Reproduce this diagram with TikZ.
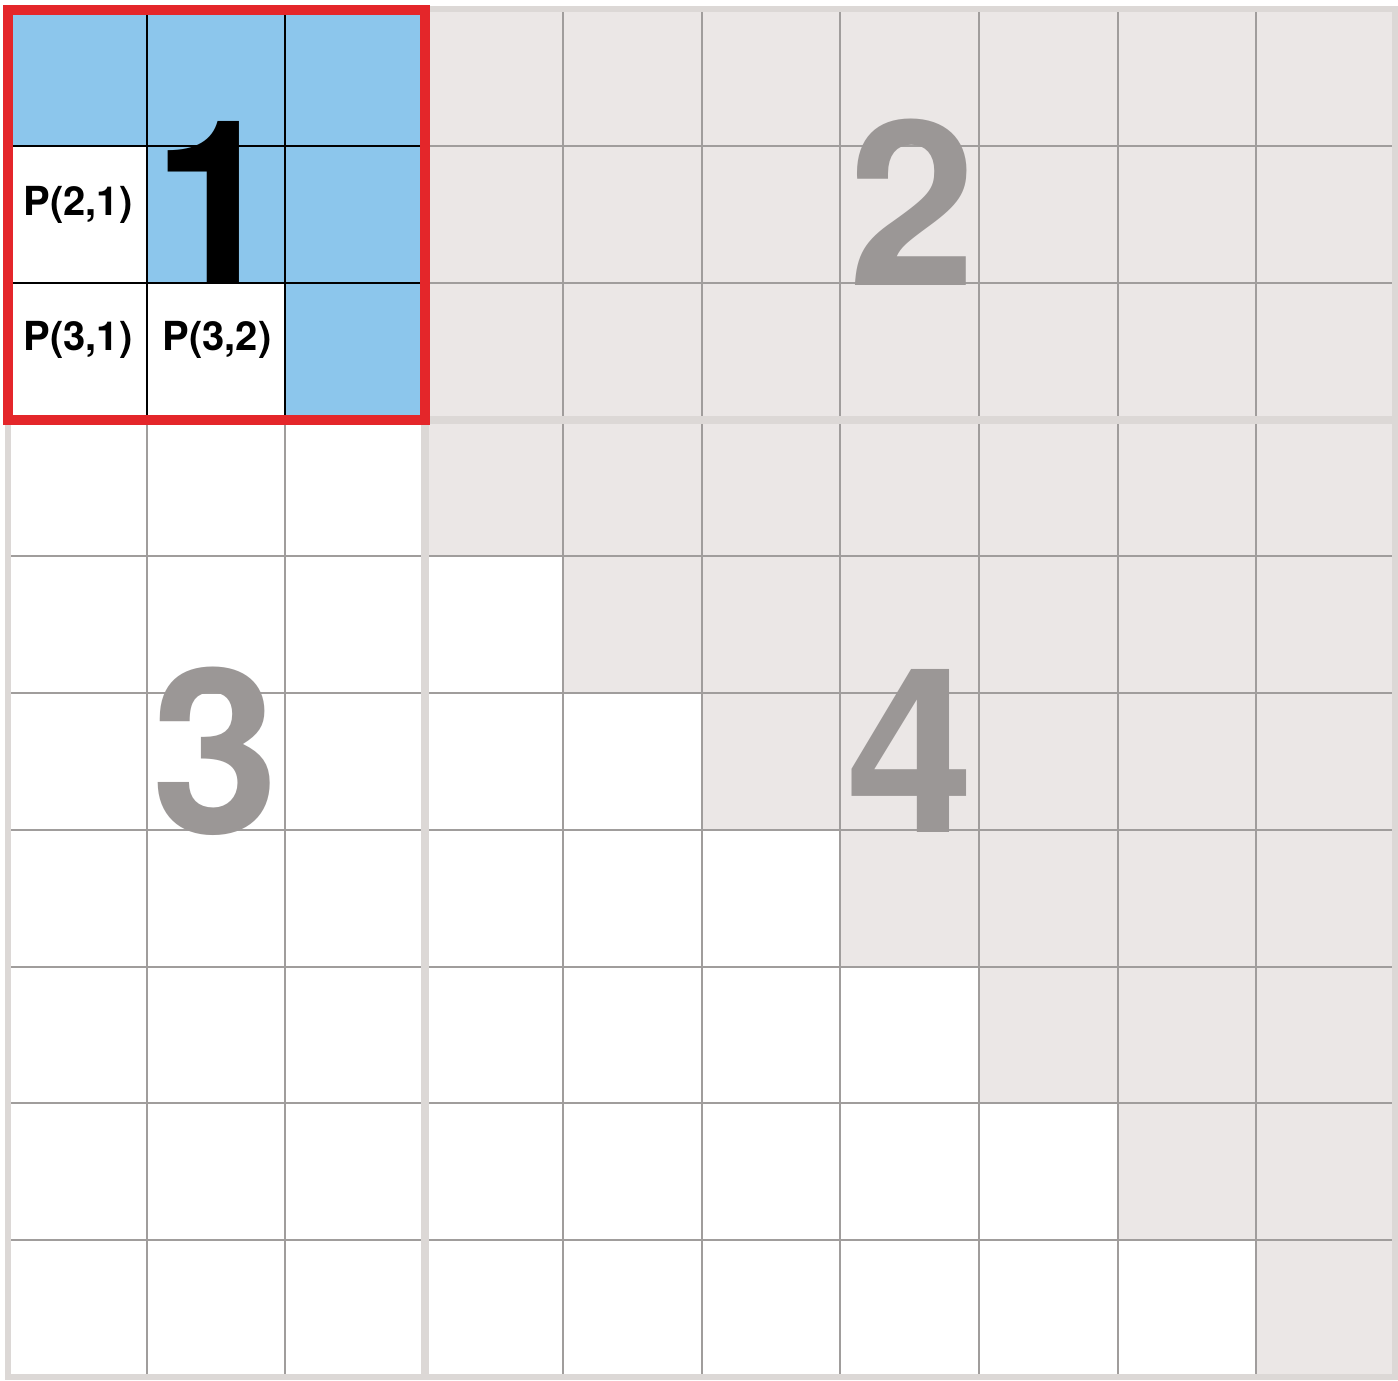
\documentclass[tikz,border=0pt]{standalone}
\usepackage{fontspec}
\setmainfont{TeX Gyre Heros}
\definecolor{cellblue}{HTML}{8CC6EC}
\definecolor{cellgray}{HTML}{EBE7E6}
\definecolor{gridgray}{HTML}{A09D9C}
\definecolor{sepgray}{HTML}{DCD8D6}
\definecolor{numgray}{HTML}{9B9796}
\definecolor{blockred}{HTML}{E4262A}
\tikzset{
  bluecell/.style={fill=cellblue},
  graycell/.style={fill=cellgray},
  gridline/.style={draw=gridgray,line width=1pt},
  blackline/.style={draw=black,line width=1pt},
  sepline/.style={draw=sepgray,line width=4pt},
  outerframe/.style={draw=sepgray,line width=3pt},
  redframe/.style={draw=blockred,line width=5pt},
  bignum/.style={inner sep=0pt,text depth=0pt,font=\fontsize{115}{115}\selectfont\bfseries},
  plabel/.style={inner sep=0pt,font=\fontsize{20}{20}\selectfont\bfseries},
}
\begin{document}
\begin{tikzpicture}[x=0.5pt,y=-0.5pt]
\useasboundingbox (0,0) rectangle (1398,1381);
\fill[white] (0,0) rectangle (1398,1381);
% gray cells, block 2
\foreach \r in {0,1,2}{\foreach \c in {3,...,9}{
  \fill[graycell] (8+138.7*\c,9+136.8*\r) rectangle ++(138.7,136.8);}}
% gray cells, block 4 (upper triangle)
\foreach \r in {3,...,9}{\foreach \c in {\r,...,9}{
  \fill[graycell] (8+138.7*\c,9+136.8*\r) rectangle ++(138.7,136.8);}}
% blue cells, block 1
\foreach \r in {0,1,2}{\foreach \c in {\r,...,2}{
  \fill[bluecell] (8+138.7*\c,9+136.8*\r) rectangle ++(138.7,136.8);}}
% thin grid lines
\foreach \k in {1,...,9}{
  \draw[gridline] (8+138.7*\k,9) -- (8+138.7*\k,1377);
  \draw[gridline] (8,9+136.8*\k) -- (1395,9+136.8*\k);}
% black lines inside block 1
\foreach \k in {1,2}{
  \draw[blackline] (8+138.7*\k,9) -- (8+138.7*\k,419.4);
  \draw[blackline] (8,9+136.8*\k) -- (424.1,9+136.8*\k);}
% block separators and frames
\draw[sepline] (425,9) -- (425,1377);
\draw[sepline] (8,420) -- (1395,420);
\draw[outerframe] (8,9) rectangle (1395,1377);
\draw[redframe] (8,10) rectangle (425,420);
% labels
\node[plabel] (p21) at (78,205) {P(2,1)};
\node[plabel] (p31) at (78,340) {P(3,1)};
\node[plabel] (p32) at (217,340) {P(3,2)};
\node[bignum,text=black] (n1) at (216,203) {1};
\node[bignum,text=numgray] (n2) at (912,202) {2};
\node[bignum,text=numgray] (n3) at (215,750) {3};
\node[bignum,text=numgray] (n4) at (910,751) {4};
\end{tikzpicture}
\end{document}
